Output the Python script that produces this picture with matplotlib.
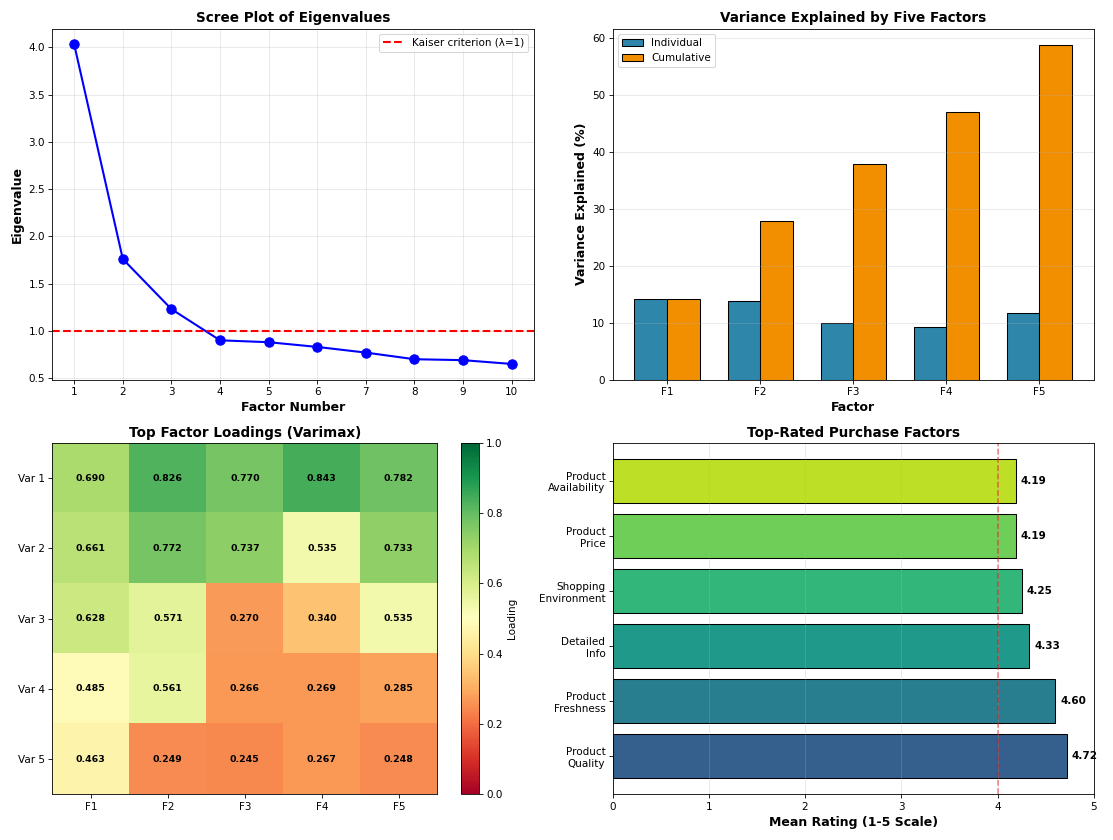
import numpy as np
import matplotlib
matplotlib.use("Agg")
from matplotlib import pyplot as plt

# scree data
factor_num = list(range(1, 11))
eigenvalues = [4.03, 1.76, 1.23, 0.90, 0.88, 0.83, 0.77, 0.70, 0.69, 0.65]

# variance explained
factors = ["F1", "F2", "F3", "F4", "F5"]
var_individual = [14.2, 13.8, 10.0, 9.3, 11.7]
var_cumulative = [14.2, 28.0, 37.9, 47.1, 58.8]

# loadings
var_labels = ["Var 1", "Var 2", "Var 3", "Var 4", "Var 5"]
loadings = np.array([
    [0.690, 0.826, 0.770, 0.843, 0.782],
    [0.661, 0.772, 0.737, 0.535, 0.733],
    [0.628, 0.571, 0.270, 0.340, 0.535],
    [0.485, 0.561, 0.266, 0.269, 0.285],
    [0.463, 0.249, 0.245, 0.267, 0.248],
])

# top rated
purchase_factors = ["Product\nQuality", "Product\nFreshness", "Detailed\nInfo",
                    "Shopping\nEnvironment", "Product\nPrice", "Product\nAvailability"]
mean_ratings = [4.72, 4.60, 4.33, 4.25, 4.19, 4.19]

fig, axes = plt.subplots(2, 2, figsize=(14.84, 11.2), dpi=75)

ax = axes[0, 0]
ax.plot(factor_num, eigenvalues, "bo-", linewidth=2, markersize=9)
ax.axhline(y=1, color="r", linestyle="--", linewidth=2, label="Kaiser criterion (λ=1)")
ax.set_xlabel("Factor Number", fontsize=12, fontweight="bold")
ax.set_ylabel("Eigenvalue", fontsize=12, fontweight="bold")
ax.set_title("Scree Plot of Eigenvalues", fontsize=13, fontweight="bold")
ax.set_xticks(factor_num)
ax.legend()
ax.grid(True, alpha=0.3)

ax = axes[0, 1]
x = np.arange(len(factors))
w = 0.35
ax.bar(x - w / 2, var_individual, w, label="Individual", color="#2e86ab", edgecolor="black")
ax.bar(x + w / 2, var_cumulative, w, label="Cumulative", color="#f18f01", edgecolor="black")
ax.set_xlabel("Factor", fontsize=12, fontweight="bold")
ax.set_ylabel("Variance Explained (%)", fontsize=12, fontweight="bold")
ax.set_title("Variance Explained by Five Factors", fontsize=13, fontweight="bold")
ax.set_xticks(x)
ax.set_xticklabels(factors)
ax.legend()
ax.grid(True, alpha=0.3, axis="y")

ax = axes[1, 0]
im = ax.imshow(loadings, cmap="RdYlGn", vmin=0, vmax=1, aspect="auto")
ax.set_xticks(range(len(factors)))
ax.set_xticklabels(factors)
ax.set_yticks(range(len(var_labels)))
ax.set_yticklabels(var_labels)
for i in range(loadings.shape[0]):
    for j in range(loadings.shape[1]):
        ax.text(j, i, f"{loadings[i, j]:.3f}", ha="center", va="center",
                fontsize=9, fontweight="bold", color="black")
ax.set_title("Top Factor Loadings (Varimax)", fontsize=13, fontweight="bold")
cb = fig.colorbar(im, ax=ax)
cb.set_label("Loading")

ax = axes[1, 1]
colors = plt.cm.viridis(np.linspace(0.3, 0.9, len(mean_ratings)))
y = np.arange(len(purchase_factors))
bars = ax.barh(y, mean_ratings, color=colors, edgecolor="black")
ax.set_yticks(y)
ax.set_yticklabels(purchase_factors)
for b, v in zip(bars, mean_ratings):
    ax.text(v + 0.05, b.get_y() + b.get_height() / 2, f"{v:.2f}",
            va="center", fontsize=10, fontweight="bold")
ax.axvline(x=4, color="red", linestyle="--", alpha=0.5)
ax.set_xlim(0, 5)
ax.set_xlabel("Mean Rating (1-5 Scale)", fontsize=12, fontweight="bold")
ax.set_title("Top-Rated Purchase Factors", fontsize=13, fontweight="bold")
ax.grid(True, alpha=0.3, axis="x")

plt.tight_layout()
plt.savefig("out.png", dpi=75)
